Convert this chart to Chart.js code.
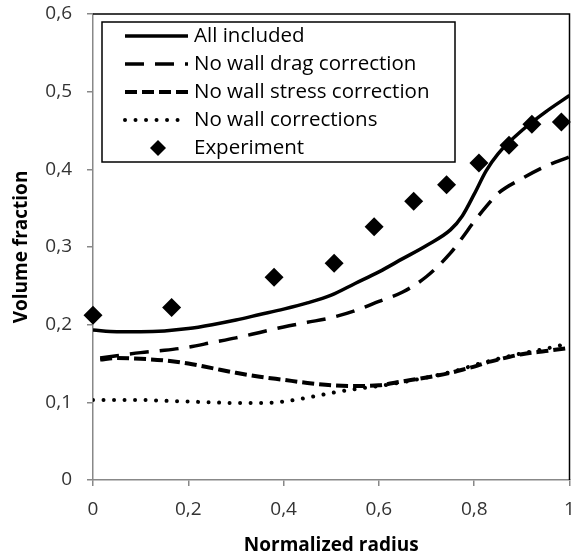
<!DOCTYPE html>
<html>
<head>
<meta charset="utf-8">
<script src="https://cdn.jsdelivr.net/npm/chart.js@4"></script>
<style>
  html, body { margin: 0; padding: 0; background: #fff; }
  #wrap { width: 579px; height: 558px; }
</style>
</head>
<body>
<div id="wrap"><canvas id="myChart" width="579" height="558"></canvas></div>
<script>
// radial positions of the model curves
var radiusModel = [0, 0.05, 0.1, 0.15, 0.2, 0.25, 0.3, 0.35, 0.4, 0.45, 0.5, 0.55, 0.6, 0.65, 0.7, 0.75, 0.775, 0.8, 0.825, 0.85, 0.9, 0.95, 1];
var radiusDashed = [0.015, 0.05, 0.1, 0.15, 0.2, 0.25, 0.3, 0.35, 0.4, 0.45, 0.5, 0.55, 0.6, 0.65, 0.7, 0.75, 0.775, 0.8, 0.825, 0.85, 0.9, 0.95, 1];

var allIncluded  = [0.193, 0.191, 0.191, 0.192, 0.195, 0.200, 0.206, 0.213, 0.220, 0.228, 0.238, 0.253, 0.268, 0.285, 0.302, 0.322, 0.340, 0.368, 0.398, 0.420, 0.450, 0.474, 0.495];
var noWallDrag   = [0.157, 0.160, 0.164, 0.167, 0.171, 0.177, 0.183, 0.190, 0.197, 0.203, 0.209, 0.218, 0.230, 0.242, 0.262, 0.292, 0.312, 0.333, 0.352, 0.369, 0.388, 0.404, 0.416];
var noWallStress = [0.155, 0.157, 0.156, 0.154, 0.150, 0.144, 0.138, 0.133, 0.129, 0.125, 0.122, 0.121, 0.122, 0.127, 0.132, 0.138, 0.142, 0.146, 0.151, 0.155, 0.162, 0.166, 0.170];
var noWallCorr   = [0.103, 0.103, 0.103, 0.102, 0.101, 0.100, 0.099, 0.099, 0.101, 0.106, 0.112, 0.117, 0.121, 0.126, 0.132, 0.139, 0.143, 0.148, 0.152, 0.156, 0.163, 0.169, 0.176];

// measured points
var radiusExp = [0, 0.165, 0.38, 0.506, 0.59, 0.673, 0.742, 0.81, 0.873, 0.921, 0.983];
var volumeExp = [0.212, 0.222, 0.261, 0.279, 0.326, 0.359, 0.380, 0.408, 0.431, 0.458, 0.461];

var legendNames = ['All included', 'No wall drag correction', 'No wall stress correction', 'No wall corrections', 'Experiment'];

var fontFam = "'Open Sans', sans-serif";

function pares(xs, ys) {
  var out = [];
  for (var i = 0; i < xs.length; i++) out.push({x: xs[i], y: ys[i]});
  return out;
}

function virgula(v) {
  return String(Number(v.toFixed(1))).replace('.', ',');
}

// black frame on top and right of the plot area
var moldura = {
  id: 'moldura',
  afterDatasetsDraw: function(chart) {
    var a = chart.chartArea, ctx = chart.ctx;
    ctx.save();
    ctx.strokeStyle = '#000';
    ctx.lineWidth = 1.5;
    ctx.beginPath();
    ctx.moveTo(a.left, a.top);
    ctx.lineTo(a.right, a.top);
    ctx.lineTo(a.right, a.bottom);
    ctx.stroke();
    ctx.restore();
  }
};

// boxed legend inside the plot
var legenda = {
  id: 'legenda',
  afterDraw: function(chart) {
    var ctx = chart.ctx;
    var bx = 102, by = 22, bw = 353, bh = 140;
    ctx.save();
    ctx.fillStyle = '#fff';
    ctx.fillRect(bx, by, bw, bh);
    ctx.strokeStyle = '#000';
    ctx.lineWidth = 1.5;
    ctx.strokeRect(bx, by, bw, bh);
    ctx.font = "20.5px " + fontFam;
    ctx.textBaseline = 'middle';
    chart.data.datasets.forEach(function(ds, i) {
      var y = 36 + i * 28;
      ctx.strokeStyle = '#000';
      ctx.fillStyle = '#000';
      if (ds.showLine) {
        ctx.lineWidth = ds.borderWidth;
        ctx.lineCap = ds.borderCapStyle || 'butt';
        ctx.setLineDash(ds.borderDash || []);
        ctx.beginPath();
        ctx.moveTo(125, y);
        ctx.lineTo(188, y);
        ctx.stroke();
        ctx.setLineDash([]);
      } else {
        var r = 8;
        ctx.beginPath();
        ctx.moveTo(158 - r, y);
        ctx.lineTo(158, y - r);
        ctx.lineTo(158 + r, y);
        ctx.lineTo(158, y + r);
        ctx.closePath();
        ctx.fill();
      }
      ctx.fillText(ds.label, 194, y);
    });
    ctx.restore();
  }
};

function linha(label, xs, ys, width, dash, cap) {
  return {
    label: label,
    data: pares(xs, ys),
    showLine: true,
    borderColor: '#000',
    borderWidth: width,
    borderDash: dash,
    borderCapStyle: cap,
    pointRadius: 0,
    pointHoverRadius: 0,
    cubicInterpolationMode: 'monotone',
    fill: false
  };
}

var ctx = document.getElementById('myChart').getContext('2d');
var chart = new Chart(ctx, {
  type: 'scatter',
  data: {
    datasets: [
      linha(legendNames[0], radiusModel, allIncluded, 3.5, [], 'butt'),
      linha(legendNames[1], radiusDashed, noWallDrag, 3.5, [19, 11], 'butt'),
      linha(legendNames[2], radiusDashed, noWallStress, 4, [12, 5], 'butt'),
      linha(legendNames[3], radiusModel, noWallCorr, 4, [0.01, 10.5], 'round'),
      {
        label: legendNames[4],
        data: pares(radiusExp, volumeExp),
        showLine: false,
        pointStyle: 'rectRot',
        pointRadius: 9.5,
        backgroundColor: '#000',
        borderColor: '#000',
        borderWidth: 0,
        clip: false
      }
    ]
  },
  options: {
    responsive: false,
    animation: false,
    events: [],
    layout: { padding: { top: 14, right: 7, left: 10, bottom: 0 } },
    plugins: { legend: { display: false }, tooltip: { enabled: false } },
    scales: {
      x: {
        type: 'linear',
        min: 0,
        max: 1,
        afterFit: function(s) { s.height = 78; s.paddingLeft = 0; s.paddingRight = 0; },
        ticks: {
          stepSize: 0.2,
          padding: 12,
          color: '#333',
          font: { family: fontFam, size: 19 },
          callback: function(v) { return virgula(v); }
        },
        grid: { drawOnChartArea: false, drawTicks: true, tickLength: 6, color: '#888', lineWidth: 1.5 },
        border: { color: '#888', width: 1.5 },
        title: {
          display: true,
          text: 'Normalized radius',
          color: '#000',
          padding: { top: 0, bottom: 1 },
          font: { family: fontFam, size: 19, weight: 'bold' }
        }
      },
      y: {
        min: 0,
        max: 0.6,
        afterFit: function(s) { s.width = 83; s.paddingTop = 0; s.paddingBottom = 0; },
        ticks: {
          stepSize: 0.1,
          padding: 15,
          color: '#333',
          font: { family: fontFam, size: 19 },
          callback: function(v) { return virgula(v); }
        },
        grid: { drawOnChartArea: false, drawTicks: true, tickLength: 6, color: '#888', lineWidth: 1.5 },
        border: { color: '#888', width: 1.5 },
        title: {
          display: true,
          text: 'Volume fraction',
          color: '#000',
          padding: { top: 0, bottom: 0 },
          font: { family: fontFam, size: 19, weight: 'bold' }
        }
      }
    }
  },
  plugins: [moldura, legenda]
});
</script>
</body>
</html>
